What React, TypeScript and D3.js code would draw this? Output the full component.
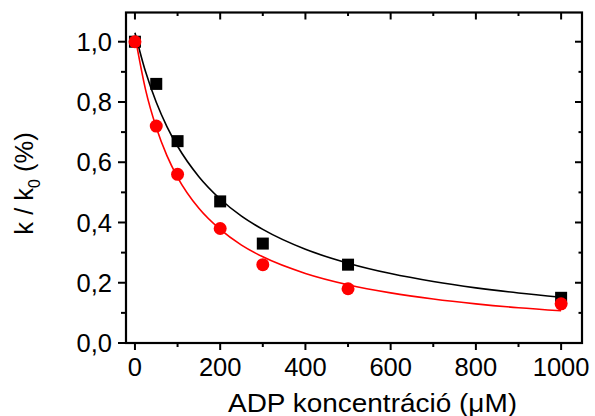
import React from "react";
import * as d3 from "d3";

const adpConc = [0, 50, 100, 200, 300, 500, 1000];
const blackValues = [1.0, 0.86, 0.67, 0.47, 0.33, 0.26, 0.15];
const redValues = [1.0, 0.72, 0.56, 0.38, 0.26, 0.18, 0.13];

const curveX = [0, 25, 50, 75, 100, 150, 200, 250, 300, 400, 500, 600, 700, 800, 900, 1000];
const blackCurve = [1.03, 0.9, 0.799, 0.7185, 0.653, 0.552, 0.478, 0.421, 0.377, 0.311, 0.265, 0.2305, 0.204, 0.183, 0.166, 0.152];
const redCurve = [1.02, 0.84, 0.715, 0.622, 0.55, 0.447, 0.377, 0.325, 0.286, 0.231, 0.1935, 0.1665, 0.146, 0.13, 0.117, 0.107];

const xMajor = [0, 200, 400, 600, 800, 1000];
const xMinor = [100, 300, 500, 700, 900];
const yMajor = [0, 0.2, 0.4, 0.6, 0.8, 1.0];
const yMinor = [0.1, 0.3, 0.5, 0.7, 0.9];

const W = 595, H = 416;
const L = 126, R = 582, T = 12.5, B = 343;

export default function App() {
  const x = d3.scaleLinear().domain([-21, 1049]).range([L, R]);
  const y = d3.scaleLinear().domain([0, 1.097]).range([B, T]);
  const line = d3
    .line<[number, number]>()
    .x((d) => x(d[0]))
    .y((d) => y(d[1]))
    .curve(d3.curveMonotoneX);
  const blackPts = curveX.map((v, i) => [v, blackCurve[i]] as [number, number]);
  const redPts = curveX.map((v, i) => [v, redCurve[i]] as [number, number]);
  const fmt = (v: number) => v.toFixed(1).replace(".", ",");
  const font = "'Liberation Sans', Arial, sans-serif";
  return (
    <svg
      width={W}
      height={H}
      style={{ position: "absolute", left: 0, top: 0, background: "#fff" }}
      fontFamily={font}
    >
      <rect x={0} y={0} width={W} height={H} fill="#fff" />
      <path d={line(blackPts) || ""} fill="none" stroke="#000" strokeWidth={1.6} />
      <path d={line(redPts) || ""} fill="none" stroke="#ff0000" strokeWidth={1.6} />
      {adpConc.map((c, i) => (
        <rect
          key={"b" + i}
          x={x(c) - 6}
          y={y(blackValues[i]) - 6}
          width={12}
          height={12}
          fill="#000"
        />
      ))}
      {adpConc.map((c, i) => (
        <circle key={"r" + i} cx={x(c)} cy={y(redValues[i])} r={6.5} fill="#ff0000" />
      ))}
      <rect x={L} y={T} width={R - L} height={B - T} fill="none" stroke="#000" strokeWidth={2.2} />
      {xMajor.map((v) => (
        <g key={"xm" + v}>
          <line x1={x(v)} x2={x(v)} y1={B} y2={B + 7} stroke="#000" strokeWidth={2} />
          <line x1={x(v)} x2={x(v)} y1={T} y2={T + 7} stroke="#000" strokeWidth={2} />
          <text x={x(v)} y={375.5} fontSize={25.5} textAnchor="middle" fill="#000">
            {v}
          </text>
        </g>
      ))}
      {xMinor.map((v) => (
        <g key={"xn" + v}>
          <line x1={x(v)} x2={x(v)} y1={B} y2={B + 4} stroke="#000" strokeWidth={2} />
          <line x1={x(v)} x2={x(v)} y1={T} y2={T + 3.5} stroke="#000" strokeWidth={2} />
        </g>
      ))}
      {yMajor.map((v) => (
        <g key={"ym" + v}>
          <line x1={L - 8} x2={L} y1={y(v)} y2={y(v)} stroke="#000" strokeWidth={2} />
          <line x1={R - 7} x2={R} y1={y(v)} y2={y(v)} stroke="#000" strokeWidth={2} />
          <text x={112} y={y(v) + 9.2} fontSize={25.5} textAnchor="end" fill="#000">
            {fmt(v)}
          </text>
        </g>
      ))}
      {yMinor.map((v) => (
        <g key={"yn" + v}>
          <line x1={L - 5} x2={L} y1={y(v)} y2={y(v)} stroke="#000" strokeWidth={2} />
          <line x1={R - 3.5} x2={R} y1={y(v)} y2={y(v)} stroke="#000" strokeWidth={2} />
        </g>
      ))}
      <text
        x={372.5}
        y={411.5}
        fontSize={25.5}
        textAnchor="middle"
        fill="#000"
        textLength={289}
        lengthAdjust="spacingAndGlyphs"
      >
        ADP koncentráció (μM)
      </text>
      <text
        transform={`translate(33,183.5) rotate(-90)`}
        fontSize={25.5}
        textAnchor="middle"
        fill="#000"
      >
        k / k
        <tspan fontSize={16} dy={7}>0</tspan>
        <tspan dy={-7}> (%)</tspan>
      </text>
    </svg>
  );
}
